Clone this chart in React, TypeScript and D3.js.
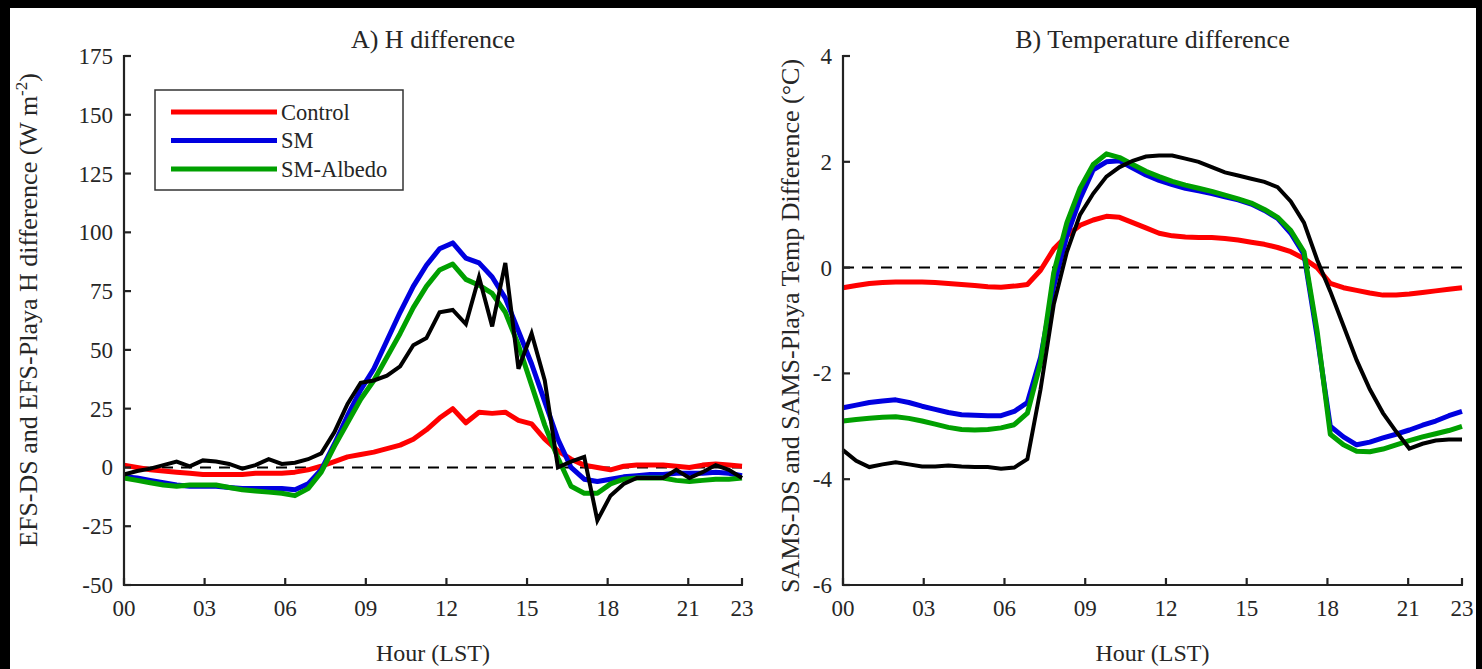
import React from 'react';
import * as d3 from 'd3';

// 48 half-hourly samples, plotted evenly from 00 to 23
const N = 48;
const hours = d3.range(N).map(i => (i * 23) / (N - 1));
const hourTicks = [0, 3, 6, 9, 12, 15, 18, 21, 23];
const hourLabels = ['00', '03', '06', '09', '12', '15', '18', '21', '23'];

const seriesNames = ['Control', 'SM', 'SM-Albedo'];

// A) H difference (W m-2)
const hControl = [1, 0, -1, -1.5, -2, -2.5, -3, -3, -3, -3, -2.5, -2.5, -2.5, -2, -1, 0.5, 2.5, 4.5, 5.5, 6.5, 8, 9.5, 12, 16, 21, 25, 19, 23.5, 23, 23.5, 20, 18.5, 12, 7, 3.5, 1, 0, -1, 0.5, 1, 1, 1, 0.5, 0, 1, 1.5, 1, 0.5];
const hSM = [-4, -4.5, -5.5, -6.5, -7.5, -8, -8, -8, -8.5, -9, -9, -9, -9, -9.5, -7, -1, 10, 22, 33, 42, 54, 66, 77, 86, 93, 95.5, 89, 87, 81, 72, 58, 44, 28, 12, 0, -5, -6, -5, -4, -3.5, -3, -3, -2.5, -2.5, -2.5, -2, -2.5, -3.5];
const hAlbedo = [-4.5, -5.5, -6.5, -7.5, -8, -7.5, -7.5, -7.5, -8.5, -9.5, -10, -10.5, -11, -12, -9, -2, 9, 19, 29, 37, 47, 57, 68, 77, 84, 86.5, 80, 77.5, 74, 66, 52, 35, 18, 4, -8, -11, -11, -7, -5, -4.5, -4.5, -4.5, -5.5, -6, -5.5, -5, -5, -4.5];
const hObs = [-3, -1.5, -0.5, 1, 2.5, 0.5, 3, 2.5, 1.5, -0.5, 1, 3.5, 1.5, 2, 3.5, 6, 15, 27, 36, 37, 39, 43, 52, 55, 66, 67, 61, 81, 60, 87, 42, 57, 37, 0, 2.5, 4.5, -22.5, -12, -7, -4.5, -4.5, -4.5, -1, -4.5, -2, 1, -1, -4.5];
const hTicks = [-50, -25, 0, 25, 50, 75, 100, 125, 150, 175];

// B) Temperature difference (°C)
const tControl = [-0.38, -0.34, -0.3, -0.28, -0.27, -0.27, -0.27, -0.28, -0.3, -0.32, -0.34, -0.36, -0.37, -0.35, -0.32, -0.05, 0.35, 0.6, 0.8, 0.9, 0.97, 0.95, 0.85, 0.75, 0.65, 0.6, 0.58, 0.57, 0.57, 0.55, 0.52, 0.48, 0.44, 0.38, 0.3, 0.17, 0, -0.3, -0.38, -0.43, -0.48, -0.52, -0.52, -0.5, -0.47, -0.44, -0.41, -0.38];
const tSM = [-2.65, -2.6, -2.55, -2.52, -2.5, -2.55, -2.62, -2.68, -2.74, -2.78, -2.79, -2.8, -2.8, -2.72, -2.55, -1.7, -0.35, 0.6, 1.3, 1.85, 2.0, 2.02, 1.88, 1.75, 1.65, 1.57, 1.5, 1.45, 1.4, 1.34, 1.28, 1.2, 1.08, 0.93, 0.65, 0.25, -1.3, -3.0, -3.2, -3.35, -3.3, -3.22, -3.15, -3.07, -2.98, -2.9, -2.8, -2.72];
const tAlbedo = [-2.9, -2.87, -2.85, -2.83, -2.82, -2.85, -2.9, -2.96, -3.02, -3.06, -3.07, -3.06, -3.03, -2.97, -2.75, -1.8, -0.1, 0.85, 1.5, 1.95, 2.15, 2.08, 1.95, 1.82, 1.72, 1.63, 1.56, 1.5, 1.44, 1.37, 1.3, 1.22, 1.1, 0.95, 0.7, 0.3, -1.2, -3.15, -3.35, -3.47, -3.48, -3.43, -3.35, -3.27, -3.2, -3.14, -3.08, -3.0];
const tObs = [-3.45, -3.65, -3.77, -3.72, -3.68, -3.72, -3.76, -3.76, -3.74, -3.76, -3.77, -3.77, -3.8, -3.78, -3.62, -2.3, -0.7, 0.3, 1.0, 1.4, 1.72, 1.9, 2.02, 2.1, 2.12, 2.12, 2.06, 2.0, 1.9, 1.8, 1.74, 1.68, 1.62, 1.52, 1.25, 0.85, 0.15, -0.45, -1.1, -1.75, -2.3, -2.75, -3.1, -3.42, -3.33, -3.27, -3.25, -3.25];
const tTicks = [-6, -4, -2, 0, 2, 4];

const colors = ['#ff0000', '#0000e0', '#00a000'];
const font = '"Liberation Serif", "DejaVu Serif", serif';
const axisColor = '#222';
const textColor = '#262626';

type PanelProps = {
  left: number;
  right: number;
  top: number;
  bottom: number;
  domain: [number, number];
  ticks: number[];
  series: number[][];
  obs: number[];
  title: string;
  yLabel: React.ReactNode;
  yLabelX: number;
  yLabelY: number;
  legend?: boolean;
};

const Panel = (p: PanelProps) => {
  const x = d3.scaleLinear().domain([0, 23]).range([p.left, p.right]);
  const y = d3.scaleLinear().domain(p.domain).range([p.bottom, p.top]);
  const line = d3.line<number>().x((d, i) => x(hours[i])).y(d => y(d));
  const cx = (p.left + p.right) / 2;

  return (
    <g>
      {/* zero reference */}
      <line x1={x(0)} x2={x(23)} y1={y(0)} y2={y(0)} stroke="#000" strokeWidth={2} strokeDasharray="11,8" />

      {p.series.map((s, k) => (
        <path key={k} d={line(s) || ''} fill="none" stroke={colors[k]} strokeWidth={5} strokeLinejoin="round" />
      ))}
      <path d={line(p.obs) || ''} fill="none" stroke="#000" strokeWidth={4} strokeLinejoin="miter" />

      {/* axes */}
      <line x1={p.left} x2={p.left} y1={p.top - 1} y2={p.bottom + 1} stroke={axisColor} strokeWidth={2.2} />
      <line x1={p.left - 1} x2={p.right + 1} y1={p.bottom} y2={p.bottom} stroke={axisColor} strokeWidth={2.2} />
      {p.ticks.map(t => (
        <g key={t}>
          <line x1={p.left} x2={p.left + 7} y1={y(t)} y2={y(t)} stroke={axisColor} strokeWidth={2.2} />
          <text x={p.left - 11} y={y(t)} dy="0.35em" textAnchor="end" fontSize={23} fill={textColor} fontFamily={font}>{t}</text>
        </g>
      ))}
      {hourTicks.map((h, i) => (
        <g key={h}>
          <line x1={x(h)} x2={x(h)} y1={p.bottom} y2={p.bottom - 7} stroke={axisColor} strokeWidth={2.2} />
          <text x={x(h)} y={p.bottom + 31} textAnchor="middle" fontSize={23} fill={textColor} fontFamily={font}>{hourLabels[i]}</text>
        </g>
      ))}

      <text x={cx} y={48} textAnchor="middle" fontSize={26} fill={textColor} fontFamily={font}>{p.title}</text>
      <text x={cx} y={661} textAnchor="middle" fontSize={24} fill={textColor} fontFamily={font}>Hour (LST)</text>
      <text transform={`translate(${p.yLabelX},${p.yLabelY}) rotate(-90)`} textAnchor="middle" fontSize={26} fill={textColor} fontFamily={font}>{p.yLabel}</text>

      {p.legend && (
        <g>
          <rect x={155} y={90} width={248} height={100} fill="#fff" stroke="#333" strokeWidth={1.5} />
          {seriesNames.map((n, k) => (
            <g key={n} transform={`translate(0,${112 + k * 28.5})`}>
              <line x1={171} x2={277} y1={0} y2={0} stroke={colors[k]} strokeWidth={5} />
              <text x={281} y={0} dy="0.35em" fontSize={22.5} fill={textColor} fontFamily={font}>{n}</text>
            </g>
          ))}
        </g>
      )}
    </g>
  );
};

export default function App() {
  return (
    <svg width={1482} height={669} style={{ position: 'fixed', left: 0, top: 0 }}>
      <rect x={0} y={0} width={1482} height={669} fill="#000" />
      <rect x={10} y={8} width={1466} height={661} fill="#fff" />
      <Panel
        left={124} right={742} top={56} bottom={585}
        domain={[-50, 175]} ticks={hTicks}
        series={[hControl, hSM, hAlbedo]} obs={hObs}
        title="A) H difference"
        yLabel={<>EFS-DS and EFS-Playa H difference (W m<tspan dy={-10} fontSize={17}>-2</tspan><tspan dy={10}>)</tspan></>}
        yLabelX={37} yLabelY={310}
        legend
      />
      <Panel
        left={843} right={1462} top={56} bottom={585}
        domain={[-6, 4]} ticks={tTicks}
        series={[tControl, tSM, tAlbedo]} obs={tObs}
        title="B) Temperature difference"
        yLabel="SAMS-DS and SAMS-Playa Temp Difference (°C)"
        yLabelX={799} yLabelY={326}
      />
    </svg>
  );
}
